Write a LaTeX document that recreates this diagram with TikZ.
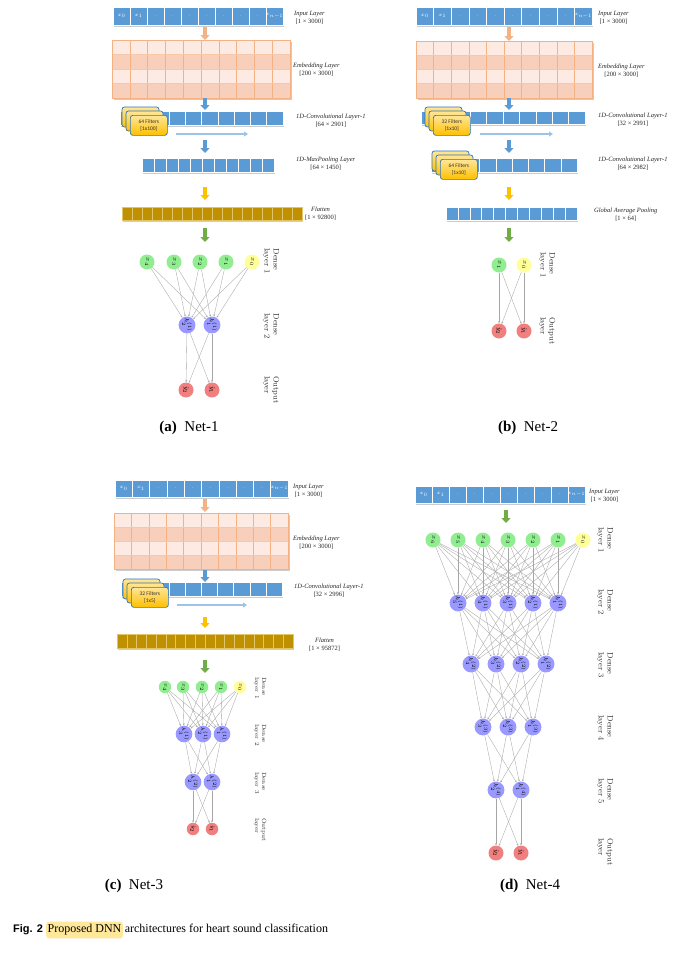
\documentclass[tikz,border=0pt]{standalone}
\usepackage{fontspec}
\newfontfamily\tnr{Liberation Serif}
\newfontfamily\calfont{Carlito}
\newfontfamily\sansb{Liberation Sans}
\usetikzlibrary{arrows.meta}
\definecolor{barblue}{HTML}{5B9BD5}
\definecolor{embL}{HTML}{FDEBE3}
\definecolor{embD}{HTML}{F8CFBB}
\definecolor{embLine}{HTML}{F4B183}
\definecolor{flat}{HTML}{BF9000}
\definecolor{flatline}{HTML}{E2C46A}
\definecolor{arrOr}{HTML}{F4B183}
\definecolor{arrBl}{HTML}{5B9BD5}
\definecolor{arrYe}{HTML}{FFC000}
\definecolor{arrGr}{HTML}{70AD47}
\definecolor{lightarr}{HTML}{9DC3E6}
\definecolor{filtEdge}{HTML}{2E75B6}
\definecolor{filtTop}{HTML}{FFE699}
\definecolor{filtBot}{HTML}{FFC000}
\definecolor{nGreen}{HTML}{90EE90}
\definecolor{nYellow}{HTML}{FFFF99}
\definecolor{nBlue}{HTML}{9999FF}
\definecolor{nRed}{HTML}{F08080}
\definecolor{hilite}{HTML}{FFE89A}
\tikzset{
  filt/.style={draw=filtEdge, line width=0.7pt, rounded corners=2.5pt, top color=filtTop, bottom color=filtBot},
  lbl/.style={anchor=west, align=center, inner sep=0, font=\tnr\fontsize{6.5}{8}\selectfont, text=black!85},
  dlbl/.style={rotate=-90, align=left, inner sep=0, font=\fontsize{8}{9}\selectfont, text=black!80},
  dlbls/.style={dlbl, font=\fontsize{6}{7}\selectfont},
  neu/.style={circle, inner sep=0, minimum size=15pt, rotate=-90, font=\fontsize{6}{7}\selectfont},
  neus/.style={neu, minimum size=12.5pt, font=\fontsize{5}{6}\selectfont},
  edge/.style={draw=black!35, line width=0.35pt, -{Stealth[length=2.2pt,width=1.8pt]}},
  barr/.style={line width=4pt, draw=#1, -{Triangle[width=9pt,length=5pt]}},
  larr/.style={line width=1.8pt, draw=lightarr, -{Triangle[width=5pt,length=4pt]}},
  intext/.style={inner sep=0, text=white, font=\fontsize{5}{5}\selectfont},
  capt/.style={font=\tnr\fontsize{15}{15}\selectfont}
}
\newcommand{\cellbar}[8][white]{%
  \fill[black!20] (#3+1.2,#4+1.5) rectangle (#5+1.2,#6+1.5);
  \pgfmathsetmacro\cbw{(#5-#3)/#7}
  \foreach \i in {1,...,#7}{
    \filldraw[fill=#8, draw=#1, line width=0.5pt] ({#3+(\i-1)*\cbw},#4) rectangle ({#3+\i*\cbw},#6);
  }
  \node[inner sep=0, outer sep=0, minimum width={(#5-#3)*1pt}, minimum height={(#6-#4)*1pt}, anchor=north west] (#2) at (#3,#4) {};
}
\newcommand{\inbar}[5]{%
  \cellbar{#1}{#2}{#3}{#4}{#5}{10}{barblue}
  \pgfmathsetmacro\cbw{(#4-#2)/10}
  \foreach \tx [count=\i] in {x_0,x_1,.,.,.,.,.,.,.,x_{n-1}}
    \node[intext] (#1t\i) at ({#2+(\i-0.5)*\cbw},{(#3+#5)/2}) {$\tx$};
}
\newcommand{\embgrid}[5]{%
  \fill[black!20] (#2+1.5,#3+1.5) rectangle (#4+1.5,#5+1.5);
  \pgfmathsetmacro\ecw{(#4-#2)/10}
  \pgfmathsetmacro\erh{(#5-#3)/4}
  \fill[embL] (#2,#3) rectangle (#4,{#3+\erh});
  \fill[embD] (#2,{#3+\erh}) rectangle (#4,{#3+2*\erh});
  \fill[embL] (#2,{#3+2*\erh}) rectangle (#4,{#3+3*\erh});
  \fill[embD] (#2,{#3+3*\erh}) rectangle (#4,#5);
  \foreach \i in {1,...,9} \draw[embLine, line width=0.6pt] ({#2+\i*\ecw},#3) -- ({#2+\i*\ecw},#5);
  \foreach \j in {1,2,3} \draw[embLine!70, line width=0.6pt] (#2,{#3+\j*\erh}) -- (#4,{#3+\j*\erh});
  \draw[embLine, line width=0.6pt] (#2,#3) rectangle (#4,#5);
  \node[inner sep=0, outer sep=0, minimum width={(#4-#2)*1pt}, minimum height={(#5-#3)*1pt}, anchor=north west] (#1) at (#2,#3) {};
}
\newcommand{\filtstack}[5]{%
  \path[filt] (#2-8,#3-8) rectangle ++(37,20);
  \path[filt] (#2-4,#3-4) rectangle ++(37,20);
  \node[filt, anchor=north west, minimum width=37pt, minimum height=20pt, inner sep=0, align=center, font=\calfont\fontsize{5.5}{6.5}\selectfont, text=black!80] (#1) at (#2,#3) {#4\\{}#5};
}
\begin{document}
\begin{tikzpicture}[x=1pt,y=-1pt]
\useasboundingbox (0,0) rectangle (692,956);

% ================= Net-1 =================
\coordinate (ax1) at (205,0);
\inbar{in1}{113}{7}{283}{25}
\node[lbl] (in1l) at (294,18) {\textit{Input Layer}\\{}[1 × 3000]};
\embgrid{emb1}{112}{40}{290}{98}
\node[lbl] (emb1l) at (293,70) {\textit{Embedding Layer}\\{}[200 × 3000]};
\cellbar{cv1}{120}{111}{283}{125}{10}{barblue}
\filtstack{f1}{130}{115}{64 Filters}{[1x100]}
\node[lbl] (cv1l) at (296,121) {\textit{1D-Convolutional Layer-1}\\{}[64 × 2901]};
\coordinate (la1s) at (176,134); \coordinate (la1e) at (248,134);
\draw[larr] (la1s) -- (la1e);
\cellbar{mp1}{142}{158}{274}{172}{11}{barblue}
\node[lbl] (mp1l) at (296,164) {\textit{1D-MaxPooling Layer}\\{}[64 × 1450]};
\cellbar[flatline]{fl1}{122}{207}{302}{220}{18}{flat}
\node[lbl] (fl1l) at (305,214) {\textit{Flatten}\\{}[1 × 92800]};
\draw[barr=arrOr, shorten <=2pt] (in1.south -| ax1) -- (emb1.north -| ax1);
\draw[barr=arrBl, shorten >=1pt] (emb1.south -| ax1) -- (cv1.north -| ax1);
\draw[barr=arrBl, shorten <=15pt, shorten >=5pt] (cv1.south -| ax1) -- (mp1.north -| ax1);
\draw[barr=arrYe, shorten <=15pt, shorten >=7pt] (mp1.south -| ax1) -- (fl1.north -| ax1);
\coordinate (g1e) at (205,242);
\draw[barr=arrGr, shorten <=8pt] (fl1.south -| ax1) -- (g1e);

\foreach \x/\lab/\col [count=\k] in {147/x_4/nGreen,174/x_3/nGreen,200/x_2/nGreen,226/x_1/nGreen,252/x_0/nYellow}
  \node[neu, fill=\col] (a1\k) at (\x,262) {$\lab$};
\node[neu, fill=nBlue] (a21) at (187,325) {$h_2^{(1)}$};
\node[neu, fill=nBlue] (a22) at (212,325) {$h_1^{(1)}$};
\node[neu, fill=nRed] (a31) at (186,390) {$\hat{y}_2$};
\node[neu, fill=nRed] (a32) at (212,390) {$\hat{y}_1$};
\foreach \i in {1,...,5} \foreach \j in {1,2} \draw[edge] (a1\i) -- (a2\j);
\foreach \i in {1,2} \foreach \j in {1,2} \draw[edge] (a2\i) -- (a3\j);
\node[dlbl] (a1lab) at (271,261) {Dense\\layer 1};
\node[dlbl] (a2lab) at (271,326) {Dense\\layer 2};
\node[dlbl] (a3lab) at (271,390) {Output\\layer};
\node[capt] (capa) at (189,428) {\textbf{(a)}\enspace Net-1};

% ================= Net-2 =================
\coordinate (ax2) at (509,0);
\inbar{in2}{416}{7}{592}{25}
\node[lbl] (in2l) at (598,18) {\textit{Input Layer}\\{}[1 × 3000]};
\embgrid{emb2}{416}{41}{592}{98}
\node[lbl] (emb2l) at (598,71) {\textit{Embedding Layer}\\{}[200 × 3000]};
\cellbar{cv2}{421}{111}{585}{124}{10}{barblue}
\filtstack{f2}{433}{115}{32 Filters}{[1x10]}
\node[lbl] (cv2l) at (598,120) {\textit{1D-Convolutional Layer-1}\\{}[32 × 2991]};
\coordinate (la2s) at (480,134); \coordinate (la2e) at (553,134);
\draw[larr] (la2s) -- (la2e);
\cellbar{cw2}{431}{158}{577}{172}{9}{barblue}
\filtstack{f2b}{440}{159}{64 Filters}{[1x10]}
\node[lbl] (cw2l) at (598,164) {\textit{1D-Convolutional Layer-1}\\{}[64 × 2982]};
\cellbar{gp2}{446}{207}{577}{220}{11}{barblue}
\node[lbl] (gp2l) at (594,215) {\textit{Global Average Pooling}\\{}[1 × 64]};
\draw[barr=arrOr, shorten <=2pt] (in2.south -| ax2) -- (emb2.north -| ax2);
\draw[barr=arrBl, shorten >=1pt] (emb2.south -| ax2) -- (cv2.north -| ax2);
\draw[barr=arrBl, shorten <=16pt, shorten >=5pt] (cv2.south -| ax2) -- (cw2.north -| ax2);
\draw[barr=arrYe, shorten <=15pt, shorten >=7pt] (cw2.south -| ax2) -- (gp2.north -| ax2);
\coordinate (g2e) at (509,242);
\draw[barr=arrGr, shorten <=8pt] (gp2.south -| ax2) -- (g2e);
\node[neu, fill=nGreen] (b11) at (499,265) {$x_1$};
\node[neu, fill=nYellow] (b12) at (524,265) {$x_0$};
\node[neu, fill=nRed] (b21) at (499,331) {$\hat{y}_2$};
\node[neu, fill=nRed] (b22) at (524,331) {$\hat{y}_1$};
\foreach \i in {1,2} \foreach \j in {1,2} \draw[edge] (b1\i) -- (b2\j);
\node[dlbl] (b1lab) at (547,265) {Dense\\layer 1};
\node[dlbl] (b2lab) at (547,331) {Output\\layer};
\node[capt] (capb) at (528,428) {\textbf{(b)}\enspace Net-2};

% ================= Net-3 =================
\coordinate (ax3) at (205,0);
\inbar{in3}{115}{480}{288}{497}
\node[lbl] (in3l) at (293,491) {\textit{Input Layer}\\{}[1 × 3000]};
\embgrid{emb3}{114}{513}{288}{569}
\node[lbl] (emb3l) at (293,543) {\textit{Embedding Layer}\\{}[200 × 3000]};
\cellbar{cv3}{121}{582}{282}{596}{10}{barblue}
\filtstack{f3}{131}{587}{32 Filters}{[1x5]}
\node[lbl] (cv3l) at (294,591) {\textit{1D-Convolutional Layer-1}\\{}[32 × 2996]};
\coordinate (la3s) at (177,605); \coordinate (la3e) at (247,605);
\draw[larr] (la3s) -- (la3e);
\cellbar[flatline]{fl3}{117}{634}{293}{648}{18}{flat}
\node[lbl] (fl3l) at (309,645) {\textit{Flatten}\\{}[1 × 95872]};
\draw[barr=arrOr, shorten <=2pt, shorten >=1pt] (in3.south -| ax3) -- (emb3.north -| ax3);
\draw[barr=arrBl, shorten <=1pt] (emb3.south -| ax3) -- (cv3.north -| ax3);
\draw[barr=arrYe, shorten <=21pt, shorten >=6pt] (cv3.south -| ax3) -- (fl3.north -| ax3);
\coordinate (g3e) at (205,673);
\draw[barr=arrGr, shorten <=12pt] (fl3.south -| ax3) -- (g3e);
\foreach \x/\lab/\col [count=\k] in {165/x_4/nGreen,183/x_3/nGreen,202/x_2/nGreen,221/x_1/nGreen,240/x_0/nYellow}
  \node[neus, fill=\col] (c1\k) at (\x,687) {$\lab$};
\foreach \x/\lab [count=\k] in {184/3,203/2,222/1}
  \node[neus, fill=nBlue] (c2\k) at (\x,734) {$h_{\lab}^{(1)}$};
\foreach \x/\lab [count=\k] in {193/2,212/1}
  \node[neus, fill=nBlue] (c3\k) at (\x,782) {$h_{\lab}^{(2)}$};
\foreach \x/\lab [count=\k] in {193/2,212/1}
  \node[neus, fill=nRed] (c4\k) at (\x,829) {$\hat{y}_{\lab}$};
\foreach \i in {1,...,5} \foreach \j in {1,2,3} \draw[edge] (c1\i) -- (c2\j);
\foreach \i in {1,2,3} \foreach \j in {1,2} \draw[edge] (c2\i) -- (c3\j);
\foreach \i in {1,2} \foreach \j in {1,2} \draw[edge] (c3\i) -- (c4\j);
\node[dlbls] (c1lab) at (260,688) {Dense\\layer 1};
\node[dlbls] (c2lab) at (260,735) {Dense\\layer 2};
\node[dlbls] (c3lab) at (260,783) {Dense\\layer 3};
\node[dlbls] (c4lab) at (260,830) {Output\\layer};
\node[capt] (capc) at (134,886) {\textbf{(c)}\enspace Net-3};

% ================= Net-4 =================
\coordinate (ax4) at (506,0);
\inbar{in4}{415}{486}{585}{503}
\node[lbl] (in4l) at (589,496) {\textit{Input Layer}\\{}[1 × 3000]};
\coordinate (g4e) at (506,523);
\draw[barr=arrGr, shorten <=7pt] (in4.south -| ax4) -- (g4e);
\foreach \x/\lab/\col [count=\k] in {433/x_6/nGreen,458/x_5/nGreen,483/x_4/nGreen,508/x_3/nGreen,533/x_2/nGreen,558/x_1/nGreen,583/x_0/nYellow}
  \node[neu, fill=\col] (d1\k) at (\x,540) {$\lab$};
\foreach \x/\lab [count=\k] in {458/5,483/4,508/3,533/2,558/1}
  \node[neu, fill=nBlue] (d2\k) at (\x,603) {$h_{\lab}^{(1)}$};
\foreach \x/\lab [count=\k] in {471/4,496/3,521/2,546/1}
  \node[neu, fill=nBlue] (d3\k) at (\x,664) {$h_{\lab}^{(2)}$};
\foreach \x/\lab [count=\k] in {483/3,508/2,533/1}
  \node[neu, fill=nBlue] (d4\k) at (\x,727) {$h_{\lab}^{(3)}$};
\foreach \x/\lab [count=\k] in {496/2,521/1}
  \node[neu, fill=nBlue] (d5\k) at (\x,790) {$h_{\lab}^{(4)}$};
\foreach \x/\lab [count=\k] in {496/2,521/1}
  \node[neu, fill=nRed] (d6\k) at (\x,853) {$\hat{y}_{\lab}$};
\foreach \i in {1,...,7} \foreach \j in {1,...,5} \draw[edge] (d1\i) -- (d2\j);
\foreach \i in {1,...,5} \foreach \j in {1,...,4} \draw[edge] (d2\i) -- (d3\j);
\foreach \i in {1,...,4} \foreach \j in {1,2,3} \draw[edge] (d3\i) -- (d4\j);
\foreach \i in {1,2,3} \foreach \j in {1,2} \draw[edge] (d4\i) -- (d5\j);
\foreach \i in {1,2} \foreach \j in {1,2} \draw[edge] (d5\i) -- (d6\j);
\node[dlbl] (d1lab) at (605,540) {Dense\\layer 1};
\node[dlbl] (d2lab) at (605,602) {Dense\\layer 2};
\node[dlbl] (d3lab) at (605,665) {Dense\\layer 3};
\node[dlbl] (d4lab) at (605,728) {Dense\\layer 4};
\node[dlbl] (d5lab) at (605,791) {Dense\\layer 5};
\node[dlbl] (d6lab) at (605,852) {Output\\layer};
\node[capt] (capd) at (530,886) {\textbf{(d)}\enspace Net-4};

% ================= Caption =================
\node[anchor=west, inner sep=0, font=\sansb\bfseries\fontsize{11}{12}\selectfont] (fig) at (13,930) {Fig. 2};
\node[anchor=west, fill=hilite, rounded corners=3pt, inner xsep=1.5pt, inner ysep=3pt, font=\tnr\fontsize{12}{14}\selectfont] (hl) at (46,930) {Proposed DNN};
\node[anchor=base west, inner sep=0, font=\tnr\fontsize{12}{14}\selectfont] (rest) at ([xshift=1.5pt]hl.base east) {architectures for heart sound classification};
\end{tikzpicture}
\end{document}
